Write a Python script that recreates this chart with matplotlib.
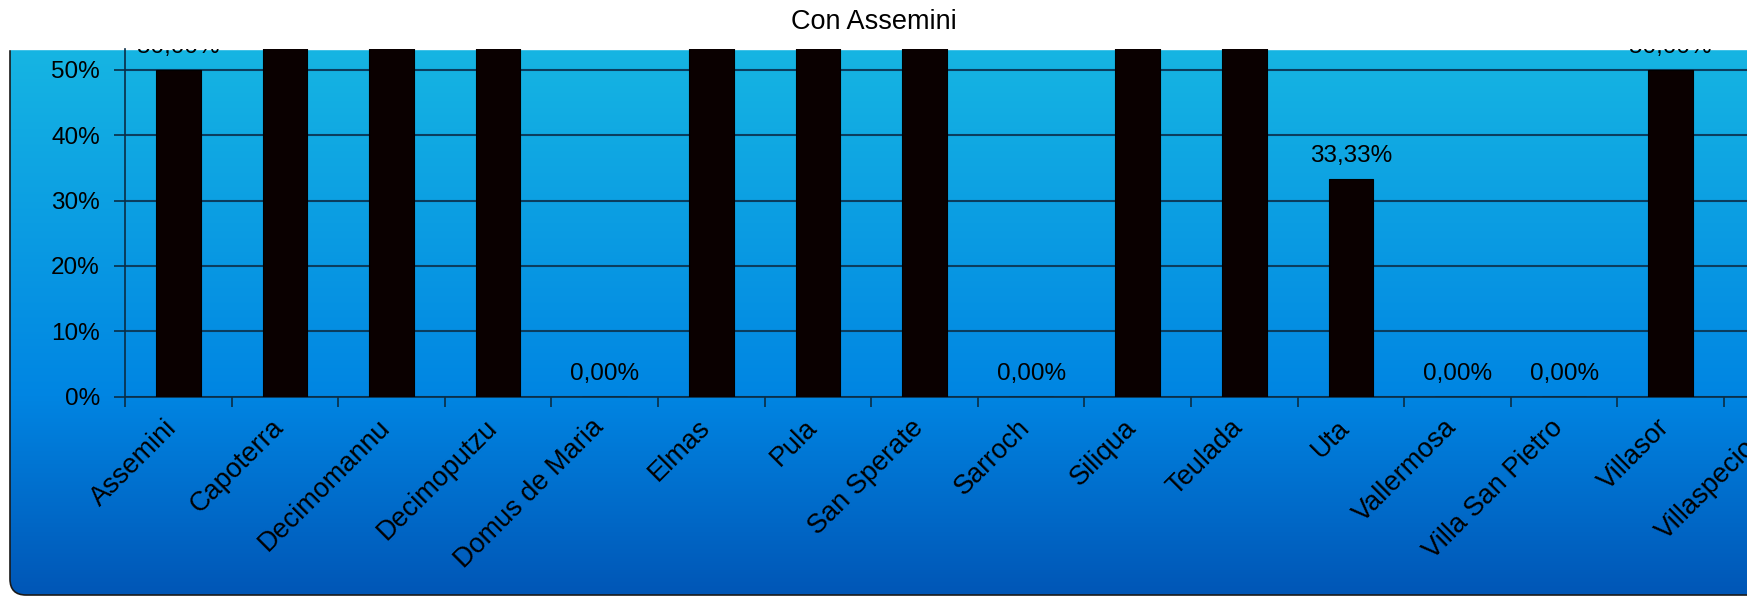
import numpy as np
import matplotlib
matplotlib.use("Agg")
import matplotlib.pyplot as plt
from matplotlib.patches import FancyBboxPatch, Rectangle
from matplotlib.colors import LinearSegmentedColormap
from matplotlib.ticker import MultipleLocator, PercentFormatter

# data
comuni = ['Assemini', 'Capoterra', 'Decimomannu', 'Decimoputzu', 'Domus de Maria',
          'Elmas', 'Pula', 'San Sperate', 'Sarroch', 'Siliqua', 'Teulada', 'Uta',
          'Vallermosa', 'Villa San Pietro', 'Villasor', 'Villaspeciosa']
valori = [0.50, 1.00, 1.00, 1.00, 0.00,
          1.00, 1.00, 1.00, 0.00, 1.00, 1.00, 0.3333,
          0.00, 0.00, 0.50, 1.00]

plt.rcParams['font.family'] = ['Liberation Sans', 'DejaVu Sans']

W, H = 1747, 596
fig = plt.figure(figsize=(W / 100, H / 100), dpi=100, facecolor='white')

# background panel with gradient
bg = fig.add_axes([0, 0, 1, 1])
bg.set_xlim(0, W)
bg.set_ylim(H, 0)
bg.axis('off')
cmap = LinearSegmentedColormap.from_list(
    'bg', [(0, '#16b5e3'), (0.636, '#0085e2'), (1, '#0056b6')])
grad = np.linspace(0, 1, 256).reshape(-1, 1)
im = bg.imshow(grad, cmap=cmap, aspect='auto', extent=[10, 1800, 596, 49],
               origin='upper', interpolation='bilinear')
panel = FancyBboxPatch((10, -60), 1850, 655,
                       boxstyle='round,pad=0,rounding_size=16',
                       fc='none', ec='#1a1a1a', lw=1.2, zorder=2)
bg.add_patch(panel)
im.set_clip_path(panel)
bg.add_patch(Rectangle((0, 0), W, 49, color='white', zorder=5))

fig.text(0.5, 1 - 22 / H, 'Con Assemini', ha='center', va='center', fontsize=19.5)

# main plot
y0, ytop = 396.7, 49
x_left, step = 125, 106.6
ax = fig.add_axes([x_left / W, (H - y0) / H, 16 * step / W, (y0 - ytop) / H])
ax.set_facecolor('none')
x = np.arange(len(comuni))
ax.bar(x, valori, width=0.42, color='#0a0000', edgecolor='#000000', lw=0.8, zorder=3)

ax.set_xlim(-0.5, len(comuni) - 0.5)
ax.set_ylim(0, 0.5317)
ax.yaxis.set_major_locator(MultipleLocator(0.1))
ax.yaxis.set_major_formatter(PercentFormatter(1.0, decimals=0))
ax.set_axisbelow(True)
ax.yaxis.grid(True, color='#0b3d5e', lw=1.5)

for s in ['top', 'right']:
    ax.spines[s].set_visible(False)
for s in ['left', 'bottom']:
    ax.spines[s].set_color('#0a2d45')
    ax.spines[s].set_linewidth(1.2)

ax.set_xticks(x, comuni)
ax.set_xticks(np.arange(len(comuni) + 1) - 0.5, minor=True)
ax.tick_params(axis='x', which='major', length=0, pad=23, labelsize=19.5)
ax.tick_params(axis='x', which='minor', length=7, width=1.2, color='#0a2d45')
ax.tick_params(axis='y', length=8, width=1.2, color='#0a2d45', pad=10, labelsize=17.5)
for lab in ax.get_xticklabels():
    lab.set_rotation(45)
    lab.set_ha('right')
    lab.set_va('baseline')
    lab.set_rotation_mode('anchor')

for i, v in enumerate(valori):
    txt = f"{v * 100:.2f}".replace('.', ',') + '%'
    ax.annotate(txt, (i, v), xytext=(0, 12), textcoords='offset points',
                ha='center', va='baseline', fontsize=17.5, clip_on=True)

fig.savefig('out.png', dpi=100)
